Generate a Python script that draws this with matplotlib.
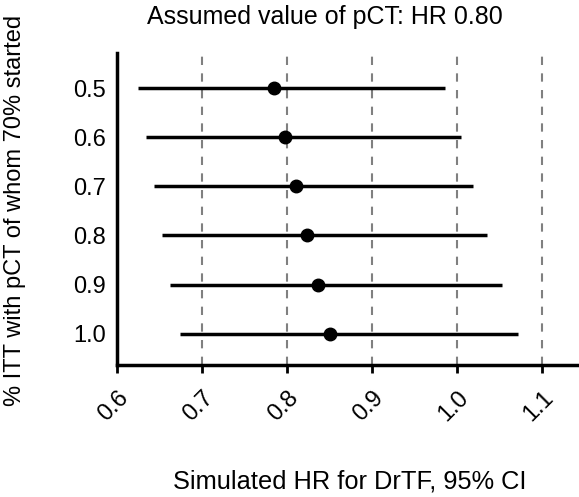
import matplotlib
matplotlib.use("Agg")
import matplotlib.pyplot as plt

plt.rcParams['font.family'] = ['Liberation Sans', 'DejaVu Sans']

categories = ["0.5", "0.6", "0.7", "0.8", "0.9", "1.0"]
hr = [0.785, 0.798, 0.810, 0.823, 0.836, 0.851]
lower = [0.625, 0.634, 0.643, 0.653, 0.662, 0.674]
upper = [0.986, 1.004, 1.018, 1.035, 1.053, 1.072]
xticks = [0.6, 0.7, 0.8, 0.9, 1.0, 1.1]
xticklabels = ["0.6", "0.7", "0.8", "0.9", "1.0", "1.1"]

fig = plt.figure(figsize=(5.79, 4.97), dpi=100)
ax = fig.add_axes([117/579, 1-365/497, 1-117/579, (365-53)/497])

ypos = list(range(len(categories)))
for xv in xticks[1:]:
    ax.axvline(xv, color='#808080', linestyle=(0, (4, 4)), linewidth=1.5, zorder=1)
ax.hlines(ypos, lower, upper, color='black', linewidth=2.5, zorder=2)
ax.plot(hr, ypos, 'o', color='black', markersize=9, zorder=3)

ax.set_xlim(0.6, 1.1 + (579 - 542.3) / 850)
ax.set_ylim(5 + 31.3/49, -35/49)
ax.set_yticks(ypos)
ax.set_yticklabels(categories, fontsize=17)
ax.tick_params(axis='y', length=0, pad=8)
ax.set_xticks(xticks)
ax.set_xticklabels(xticklabels, fontsize=17, rotation=45, ha='right', va='top', rotation_mode='anchor')
ax.tick_params(axis='x', length=6, width=2, pad=10)

for s in ['top', 'right']:
    ax.spines[s].set_visible(False)
for s in ['left', 'bottom']:
    ax.spines[s].set_linewidth(2.5)

fig.text(325/579, 1-17/497, "Assumed value of pCT: HR 0.80", ha='center', va='center', fontsize=18)
fig.text(350/579, 1-481/497, "Simulated HR for DrTF, 95% CI", ha='center', va='center', fontsize=18.3)
fig.text(15/579, 1-210/497, "% ITT with pCT of whom 70% started", ha='center', va='center', rotation=90, fontsize=17)

fig.savefig("out.png", dpi=100)
